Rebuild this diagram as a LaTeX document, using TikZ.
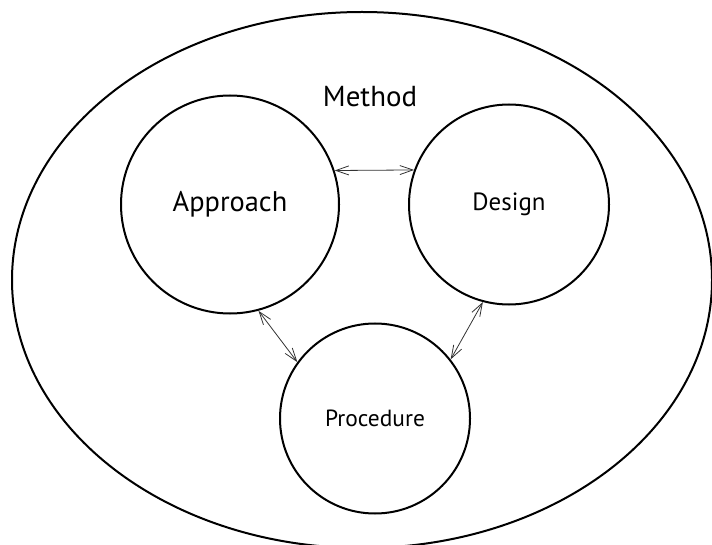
\documentclass[tikz,border=0pt]{standalone}
\usepackage{fontspec}
\setmainfont{PT Sans}
\usetikzlibrary{arrows.meta}

\begin{document}
\begin{tikzpicture}
    [
      x=1bp, y=-1bp,
      concept/.style={draw, circle, line width=2bp, inner sep=0pt},
      link/.style={{Straight Barb[length=13bp,width=9bp]}-{Straight Barb[length=13bp,width=9bp]}, line width=0.8bp, draw=black!80},
    ]
    \useasboundingbox (0,0) rectangle (712,545);

    \draw [line width=2bp] (362,280) ellipse [x radius=350, y radius=268];
    \node (method) at (370,97) {\fontsize{29}{32}\selectfont Method};

    \node [concept, minimum size=218bp] (approach) at (230,204.5) {\fontsize{28.5}{32}\selectfont Approach};
    \node [concept, minimum size=200bp] (design) at (509,204.5) {\fontsize{25}{28}\selectfont Design};
    \node [concept, minimum size=190bp] (procedure) at (375,418.5) {\fontsize{23.5}{26}\selectfont Procedure};

    \draw [link] (approach.18) -- (design.160.4);
    \draw [link] (approach.-75.4) -- (procedure.144);
    \draw [link] (design.-105.7) -- (procedure.38.9);
  \end{tikzpicture}
\end{document}
